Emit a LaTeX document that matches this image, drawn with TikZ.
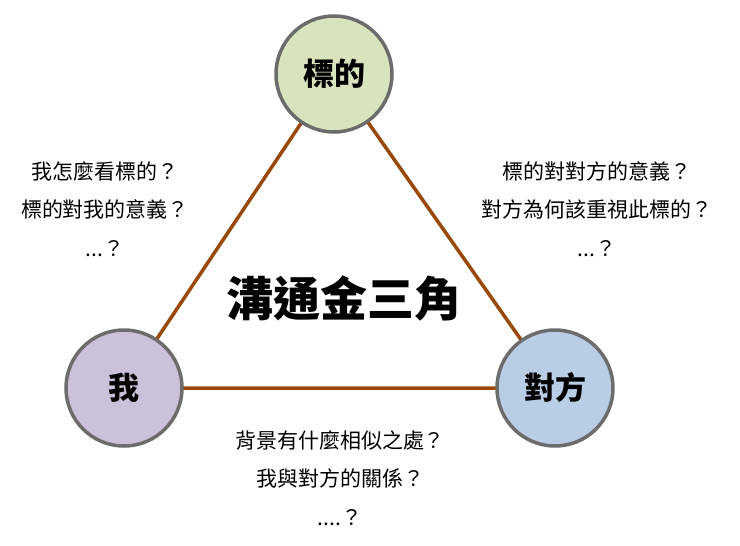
\documentclass[tikz,border=0pt]{standalone}
\usepackage{fontspec}
\setmainfont{Noto Sans CJK TC}
\begin{document}
\begin{tikzpicture}[x=1pt,y=-1pt,
  circ/.style={circle,draw=gray!85!black,line width=3.5pt,minimum size=116pt,inner sep=0pt,font=\fontsize{31}{34}\selectfont\bfseries},
  edge/.style={draw=brown!70!black,line width=3.5pt,color={rgb,255:red,152;green,72;blue,7}},
  txt/.style={align=center,font=\fontsize{21}{38.5}\selectfont}]
\useasboundingbox (0,0) rectangle (740,546);
\coordinate (ct) at (334,74);
\coordinate (cl) at (124,388);
\coordinate (cr) at (555,388);
\draw[edge] (ct) -- (cl) -- (cr) -- cycle;
\node[circ,fill={rgb,255:red,215;green,228;blue,189}] (t) at (ct) {標的};
\node[circ,fill={rgb,255:red,204;green,193;blue,218}] (l) at (cl) {我};
\node[circ,fill={rgb,255:red,185;green,205;blue,229}] (r) at (cr) {對方};
\node[font=\fontsize{47}{50}\selectfont\bfseries] (title) at (344,298) {溝通金三角};
\node[txt] (lt) at (105,209) {我怎麼看標的？\\標的對我的意義？\\...？};
\node[txt] (rt) at (597,209) {標的對對方的意義？\\對方為何該重視此標的？\\...？};
\node[txt] (bt) at (340,478) {背景有什麼相似之處？\\我與對方的關係？\\....？};
\end{tikzpicture}
\end{document}
